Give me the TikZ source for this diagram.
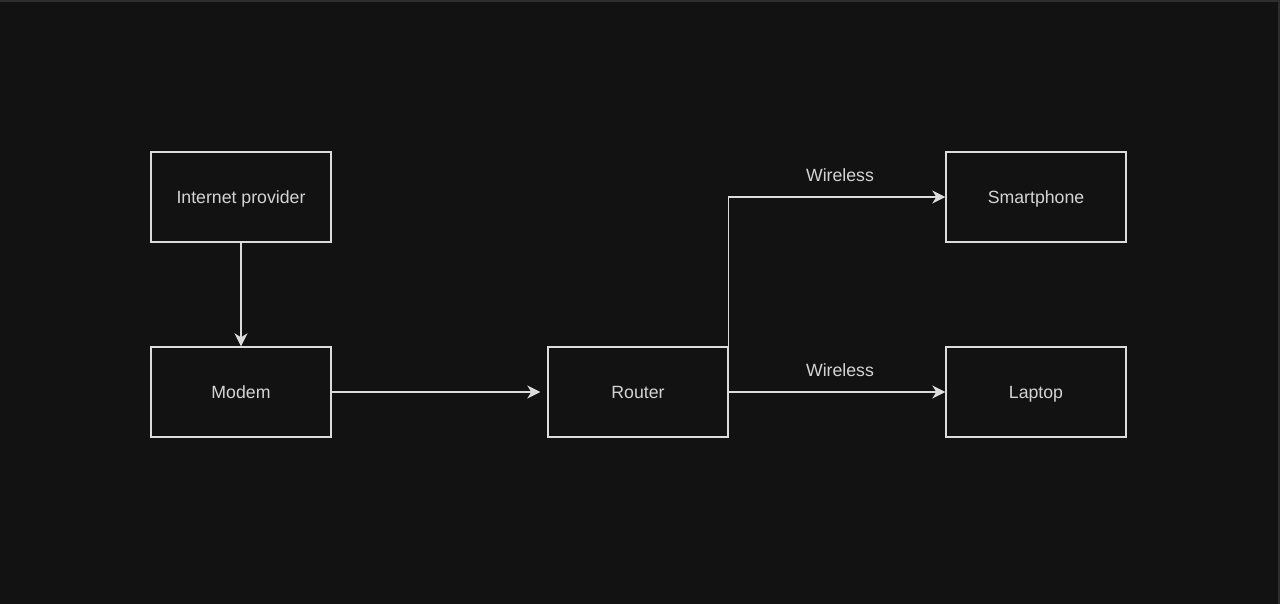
\documentclass[tikz,border=0pt]{standalone}
\usepackage{fontspec}
\setmainfont{Liberation Sans}
\usetikzlibrary{arrows.meta}
\definecolor{bg}{HTML}{121212}
\definecolor{edge}{HTML}{2E2E2E}
\definecolor{ln}{HTML}{DCDCDC}
\definecolor{tx}{HTML}{D4D4D4}
\begin{document}
\begin{tikzpicture}[x=1pt,y=-1pt,
  box/.style={draw=ln,line width=1.4pt,minimum width=180pt,minimum height=90pt,inner sep=0pt,text=tx,text height=12.7pt,text depth=0pt,font=\fontsize{17.7}{20}\selectfont},
  conn/.style={draw=ln,line width=1.4pt,-{Stealth[length=13pt,width=13pt,inset=4pt]}},
  lbl/.style={text=tx,font=\fontsize{17.7}{20}\selectfont,inner sep=0pt}]
\fill[bg] (0,0) rectangle (1280,604);
\useasboundingbox (0,0) rectangle (1280,604);
\draw[edge,line width=2pt] (0,1) -- (1279,1) -- (1279,604);
\node[box] (ip) at (241,197) {Internet provider};
\node[box] (modem) at (241,392) {Modem};
\node[box] (router) at (638,392) {Router};
\node[box] (phone) at (1036,197) {Smartphone};
\node[box] (laptop) at (1036,392) {Laptop};
\draw[conn] (ip.south) -- (modem.north);
\draw[conn,shorten >=7pt] (modem.east) -- (router.west);
\draw[conn] (router.north east) |- (phone.west);
\draw[conn] (router.east) -- (laptop.west);
\node[lbl] (w1) at (840,175) {Wireless};
\node[lbl] (w2) at (840,370) {Wireless};
\end{tikzpicture}
\end{document}
